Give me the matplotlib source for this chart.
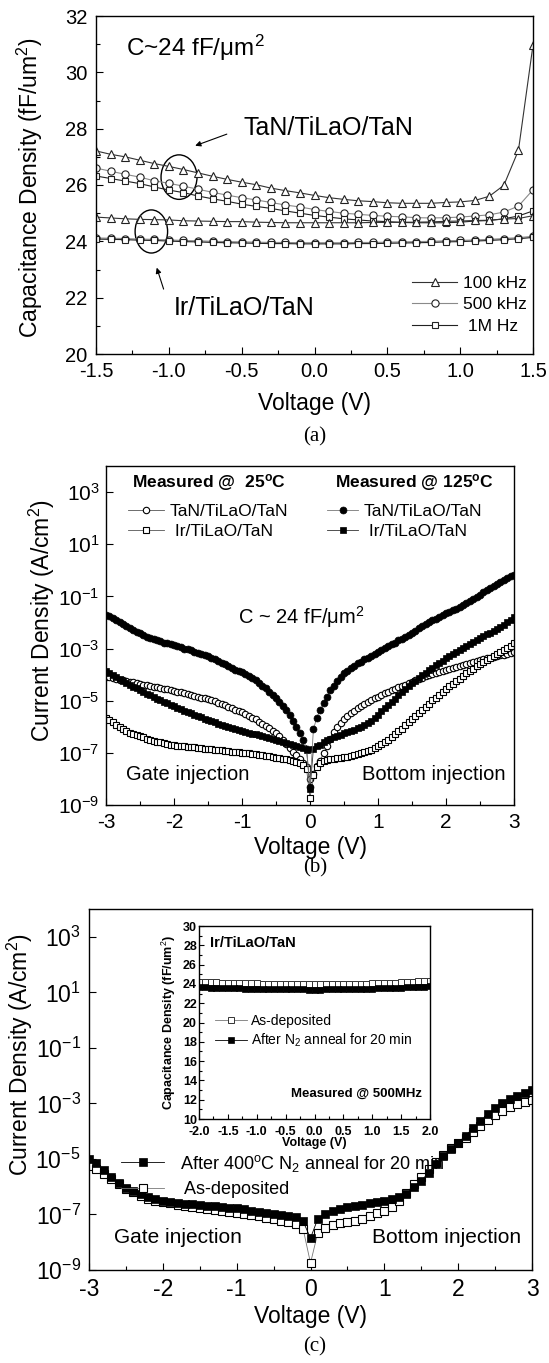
# Capacitancia y corriente de capacitores MIM TiLaO
import numpy as np
import matplotlib
matplotlib.use("Agg")
import matplotlib.pyplot as plt
from matplotlib.patches import Ellipse
from matplotlib.ticker import (MultipleLocator, FixedLocator, NullLocator,
                               FormatStrFormatter, LogFormatterMathtext)

plt.rcParams["font.family"] = ["Liberation Sans", "DejaVu Sans"]
plt.rcParams["mathtext.fontset"] = "custom"
plt.rcParams["mathtext.rm"] = "Liberation Sans"
plt.rcParams["mathtext.it"] = "Liberation Sans:italic"
plt.rcParams["mathtext.bf"] = "Liberation Sans:bold"
plt.rcParams["axes.unicode_minus"] = False

# ---------------- (a) C-V, 31 puntos de -1.5 a 1.5 V ----------------
volt_a = np.linspace(-1.5, 1.5, 31)
tan_100k = [27.21, 27.09, 27.00, 26.88, 26.76, 26.66, 26.55, 26.43, 26.31, 26.20,
            26.10, 26.01, 25.89, 25.80, 25.72, 25.63, 25.55, 25.49, 25.44, 25.41,
            25.37, 25.35, 25.35, 25.35, 25.38, 25.40, 25.45, 25.60, 25.99, 27.23, 30.97]
tan_500k = [26.60, 26.49, 26.38, 26.28, 26.15, 26.06, 25.96, 25.85, 25.74, 25.64,
            25.55, 25.47, 25.38, 25.29, 25.22, 25.13, 25.06, 25.00, 24.96, 24.92,
            24.89, 24.87, 24.84, 24.83, 24.84, 24.86, 24.90, 24.94, 25.04, 25.25, 25.83]
tan_1m = [26.32, 26.23, 26.14, 26.05, 25.93, 25.82, 25.73, 25.61, 25.51, 25.42,
          25.32, 25.24, 25.17, 25.08, 25.00, 24.92, 24.86, 24.80, 24.76, 24.72,
          24.70, 24.67, 24.66, 24.66, 24.66, 24.68, 24.72, 24.74, 24.80, 24.90, 25.08]
ir_100k = [24.86, 24.83, 24.80, 24.78, 24.77, 24.76, 24.73, 24.72, 24.71, 24.70,
           24.70, 24.68, 24.67, 24.66, 24.66, 24.66, 24.66, 24.66, 24.66, 24.67,
           24.67, 24.68, 24.68, 24.69, 24.71, 24.72, 24.74, 24.75, 24.79, 24.81, 24.91]
ir_500k = [24.12, 24.11, 24.10, 24.08, 24.07, 24.05, 24.03, 24.02, 24.00, 23.99,
           23.98, 23.97, 23.96, 23.96, 23.95, 23.95, 23.95, 23.95, 23.96, 23.96,
           23.97, 23.98, 23.99, 24.00, 24.02, 24.03, 24.05, 24.07, 24.10, 24.13, 24.18]
ir_1m = [24.08, 24.07, 24.06, 24.04, 24.03, 24.01, 23.99, 23.98, 23.96, 23.95,
         23.94, 23.93, 23.92, 23.92, 23.91, 23.91, 23.91, 23.91, 23.92, 23.92,
         23.93, 23.94, 23.95, 23.96, 23.98, 23.99, 24.01, 24.03, 24.06, 24.09, 24.14]
freq_labels = ["100 kHz", "500 kHz", " 1M Hz"]

# ---------------- (b) J-V, log10(J), 121 puntos de -3 a 3 V ----------------
volt_b = np.linspace(-3, 3, 121)
tan_25c_log = [
    -4.08, -4.11, -4.14, -4.16, -4.19, -4.22, -4.24, -4.27, -4.30, -4.32,
    -4.35, -4.38, -4.40, -4.43, -4.46, -4.48, -4.51, -4.54, -4.57, -4.59,
    -4.62, -4.65, -4.68, -4.71, -4.74, -4.78, -4.81, -4.85, -4.88, -4.91,
    -4.95, -4.99, -5.03, -5.08, -5.13, -5.18, -5.24, -5.29, -5.34, -5.40,
    -5.45, -5.51, -5.58, -5.65, -5.72, -5.80, -5.88, -5.97, -6.06, -6.15,
    -6.25, -6.37, -6.50, -6.65, -6.80, -6.95, -7.10, -7.25, -7.40, -7.55,
    -8.00,
    -7.80, -7.50, -7.30, -7.00, -6.75, -6.45, -6.20, -6.00, -5.85, -5.72,
    -5.60, -5.48, -5.38, -5.28, -5.20, -5.12, -5.04, -4.97, -4.91, -4.85,
    -4.78, -4.72, -4.66, -4.60, -4.55, -4.49, -4.44, -4.38, -4.33, -4.28,
    -4.22, -4.17, -4.12, -4.07, -4.02, -3.98, -3.94, -3.90, -3.86, -3.82,
    -3.78, -3.74, -3.70, -3.67, -3.63, -3.59, -3.56, -3.52, -3.49, -3.45,
    -3.42, -3.38, -3.35, -3.32, -3.29, -3.26, -3.23, -3.20, -3.17, -3.15]
ir_25c_log = [
    -5.65, -5.74, -5.83, -5.92, -6.00, -6.10, -6.16, -6.22, -6.28, -6.32,
    -6.36, -6.41, -6.45, -6.49, -6.53, -6.57, -6.60, -6.63, -6.65, -6.68,
    -6.70, -6.72, -6.73, -6.75, -6.76, -6.78, -6.79, -6.81, -6.82, -6.84,
    -6.85, -6.86, -6.88, -6.89, -6.91, -6.92, -6.93, -6.95, -6.96, -6.97,
    -6.99, -7.00, -7.02, -7.04, -7.05, -7.07, -7.09, -7.11, -7.13, -7.15,
    -7.18, -7.20, -7.22, -7.25, -7.28, -7.31, -7.35, -7.40, -7.47, -7.62,
    -8.75,
    -7.85, -7.55, -7.38, -7.32, -7.28, -7.25, -7.23, -7.21, -7.19, -7.17,
    -7.15, -7.12, -7.09, -7.06, -7.02, -6.98, -6.93, -6.88, -6.82, -6.75,
    -6.67, -6.58, -6.49, -6.39, -6.29, -6.18, -6.07, -5.95, -5.83, -5.71,
    -5.59, -5.47, -5.35, -5.23, -5.11, -4.99, -4.88, -4.77, -4.66, -4.55,
    -4.45, -4.35, -4.25, -4.15, -4.05, -3.95, -3.86, -3.77, -3.68, -3.60,
    -3.52, -3.44, -3.37, -3.29, -3.22, -3.14, -3.06, -2.98, -2.90, -2.80]
tan_125c_log = [
    -1.70, -1.76, -1.82, -1.90, -1.97, -2.05, -2.12, -2.21, -2.30, -2.36,
    -2.42, -2.49, -2.55, -2.60, -2.65, -2.69, -2.73, -2.77, -2.80, -2.84,
    -2.88, -2.92, -2.96, -3.00, -3.03, -3.07, -3.12, -3.17, -3.22, -3.26,
    -3.30, -3.36, -3.42, -3.48, -3.55, -3.61, -3.68, -3.75, -3.82, -3.86,
    -3.90, -3.97, -4.05, -4.13, -4.22, -4.32, -4.42, -4.53, -4.65, -4.77,
    -4.90, -5.05, -5.20, -5.37, -5.55, -5.77, -6.00, -6.25, -6.50, -6.85,
    -8.30,
    -6.10, -5.65, -5.35, -5.10, -4.85, -4.60, -4.42, -4.25, -4.10, -3.95,
    -3.85, -3.75, -3.66, -3.57, -3.50, -3.42, -3.35, -3.27, -3.20, -3.13,
    -3.06, -2.99, -2.91, -2.84, -2.77, -2.69, -2.62, -2.55, -2.47, -2.40,
    -2.32, -2.23, -2.15, -2.07, -2.00, -1.92, -1.85, -1.78, -1.71, -1.65,
    -1.59, -1.53, -1.47, -1.40, -1.33, -1.26, -1.18, -1.10, -1.02, -0.93,
    -0.85, -0.77, -0.69, -0.60, -0.52, -0.45, -0.37, -0.30, -0.23, -0.17]
ir_125c_log = [
    -3.85, -3.93, -4.02, -4.10, -4.18, -4.25, -4.32, -4.39, -4.46, -4.53,
    -4.60, -4.67, -4.73, -4.80, -4.86, -4.92, -4.98, -5.04, -5.10, -5.16,
    -5.22, -5.27, -5.33, -5.38, -5.43, -5.49, -5.54, -5.59, -5.64, -5.69,
    -5.74, -5.79, -5.83, -5.88, -5.92, -5.96, -6.00, -6.04, -6.08, -6.12,
    -6.15, -6.19, -6.22, -6.26, -6.29, -6.33, -6.36, -6.40, -6.43, -6.46,
    -6.50, -6.54, -6.57, -6.61, -6.65, -6.69, -6.73, -6.78, -6.83, -6.90,
    -8.40,
    -6.85, -6.75, -6.68, -6.60, -6.52, -6.45, -6.40, -6.35, -6.30, -6.25,
    -6.20, -6.16, -6.11, -6.06, -6.00, -5.94, -5.87, -5.78, -5.66, -5.53,
    -5.40, -5.28, -5.16, -5.04, -4.92, -4.80, -4.68, -4.56, -4.45, -4.34,
    -4.23, -4.12, -4.02, -3.92, -3.82, -3.73, -3.64, -3.55, -3.46, -3.38,
    -3.30, -3.22, -3.14, -3.06, -2.98, -2.90, -2.82, -2.75, -2.67, -2.60,
    -2.53, -2.46, -2.39, -2.32, -2.25, -2.18, -2.10, -2.00, -1.90, -1.78]
device_labels = ["TaN/TiLaO/TaN", " Ir/TiLaO/TaN"]

# ---------------- (c) J-V tras recocido, log10(J), 61 puntos ----------------
volt_c = np.linspace(-3, 3, 61)
anneal_log = [
    -5.00, -5.15, -5.40, -5.65, -5.85, -6.03, -6.17, -6.28, -6.38, -6.45,
    -6.50, -6.55, -6.58, -6.61, -6.64, -6.66, -6.68, -6.70, -6.72, -6.75,
    -6.78, -6.82, -6.86, -6.90, -6.95, -7.00, -7.03, -7.06, -7.10, -7.25,
    -7.85,
    -7.15, -6.97, -6.88, -6.80, -6.74, -6.69, -6.65, -6.60, -6.56, -6.52,
    -6.46, -6.38, -6.25, -6.00, -5.78, -5.50, -5.20, -4.90, -4.65, -4.42,
    -4.16, -3.90, -3.65, -3.40, -3.18, -3.00, -2.85, -2.75, -2.63, -2.50]
asdep_log = [
    -5.25, -5.38, -5.55, -5.72, -5.90, -6.08, -6.20, -6.32, -6.43, -6.50,
    -6.56, -6.60, -6.65, -6.70, -6.74, -6.77, -6.80, -6.84, -6.88, -6.92,
    -6.96, -6.99, -7.02, -7.06, -7.11, -7.16, -7.22, -7.27, -7.36, -7.52,
    -8.75,
    -7.65, -7.48, -7.37, -7.30, -7.26, -7.22, -7.15, -7.06, -6.96, -6.86,
    -6.72, -6.52, -6.22, -5.92, -5.65, -5.38, -5.12, -4.86, -4.62, -4.44,
    -4.25, -4.03, -3.80, -3.60, -3.42, -3.27, -3.12, -3.02, -2.95, -2.87]

# inserto C-V a 500 MHz, 41 puntos de -2 a 2 V
volt_in = np.linspace(-2, 2, 41)
cap_asdep = [24.20, 24.18, 24.16, 24.15, 24.13, 24.12, 24.10, 24.09, 24.07, 24.06,
             24.05, 24.03, 24.02, 24.01, 24.00, 23.99, 23.98, 23.97, 23.97, 23.96,
             23.96, 23.96, 23.97, 23.97, 23.98, 23.99, 24.00, 24.01, 24.03, 24.04,
             24.06, 24.08, 24.10, 24.12, 24.14, 24.17, 24.20, 24.23, 24.26, 24.30, 24.34]
cap_anneal = [23.65, 23.63, 23.61, 23.60, 23.58, 23.57, 23.55, 23.54, 23.52, 23.51,
              23.50, 23.48, 23.47, 23.46, 23.45, 23.44, 23.43, 23.42, 23.42, 23.41,
              23.41, 23.41, 23.42, 23.42, 23.43, 23.44, 23.45, 23.46, 23.48, 23.49,
              23.51, 23.53, 23.55, 23.57, 23.59, 23.61, 23.64, 23.67, 23.70, 23.73, 23.76]

W, H = 549, 1363


def caja(left, top, right, bottom):
    """Rectangulo de ejes en fraccion de figura a partir de pixeles."""
    return [left / W, 1 - bottom / H, (right - left) / W, (bottom - top) / H]


def estilo(ax, size, padx, pady, bold=False):
    ax.tick_params(which="both", direction="in", top=False, right=False, width=0.8)
    ax.tick_params(which="major", length=5)
    ax.tick_params(which="minor", length=3)
    ax.tick_params(axis="x", labelsize=size, pad=padx)
    ax.tick_params(axis="y", labelsize=size, pad=pady)
    for s in ax.spines.values():
        s.set_linewidth(1.0)
    if bold:
        for t in ax.get_xticklabels() + ax.get_yticklabels():
            t.set_fontweight("bold")


def etiquetas(ax, xl, yl, xpos, ypos, size, weight="normal"):
    ax.set_xlabel(xl, fontsize=size, fontweight=weight, va="center")
    ax.set_ylabel(yl, fontsize=size, fontweight=weight, va="center", ha="center")
    ax.xaxis.set_label_coords(*xpos)
    ax.yaxis.set_label_coords(*ypos)


def eje_log(ax):
    ax.set_yscale("log")
    ax.set_ylim(1e-9, 1e4)
    ax.set_xlim(-3, 3)
    ax.yaxis.set_major_locator(FixedLocator([10.0 ** k for k in range(-9, 4, 2)]))
    ax.yaxis.set_major_formatter(LogFormatterMathtext())
    ax.yaxis.set_minor_locator(NullLocator())
    ax.xaxis.set_major_locator(MultipleLocator(1))
    ax.xaxis.set_minor_locator(MultipleLocator(0.5))


def main():
    fig = plt.figure(figsize=(W / 100, H / 100), dpi=100)

    # ===================== (a) =====================
    ax = fig.add_axes(caja(96, 16, 533, 354))
    est = [dict(marker="^", ms=6.0, color="#333333"),
           dict(marker="o", ms=5.2, color="#8a8a8a"),
           dict(marker="s", ms=4.5, color="#222222")]
    lineas = []
    for y, e, lab in zip([tan_100k, tan_500k, tan_1m], est, freq_labels):
        l, = ax.plot(volt_a, y, "-", lw=0.8, color=e["color"], marker=e["marker"],
                     ms=e["ms"], mfc="white", mec="#222222", mew=0.8, label=lab)
        lineas.append(l)
    for y, e in zip([ir_100k, ir_500k, ir_1m], est):
        ax.plot(volt_a, y, "-", lw=0.8, color=e["color"], marker=e["marker"],
                ms=e["ms"], mfc="white", mec="#222222", mew=0.8)
    ax.set_xlim(-1.5, 1.5)
    ax.set_ylim(20, 32)
    ax.xaxis.set_major_locator(MultipleLocator(0.5))
    ax.xaxis.set_minor_locator(MultipleLocator(0.25))
    ax.xaxis.set_major_formatter(FormatStrFormatter("%.1f"))
    ax.yaxis.set_major_locator(MultipleLocator(2))
    ax.yaxis.set_minor_locator(MultipleLocator(1))
    estilo(ax, 14.5, 6, 6)
    etiquetas(ax, "Voltage (V)", "Capacitance Density (fF/um$^2$)",
              (0.5, -0.145), (-0.151, 0.49), 16.5)
    ax.legend(lineas, freq_labels, loc="lower right", bbox_to_anchor=(0.985, 0.06),
              frameon=False, fontsize=12.5, handlelength=2.6, handletextpad=0.3,
              labelspacing=0.35, borderaxespad=0, borderpad=0)
    ax.text(-1.294, 30.86, "C~24 fF/μm$^2$", fontsize=17.5, va="center")
    ax.text(-0.49, 28.02, "TaN/TiLaO/TaN", fontsize=18, va="center")
    ax.text(-0.964, 21.63, "Ir/TiLaO/TaN", fontsize=18, va="center")
    ax.add_patch(Ellipse((-0.93, 26.28), 0.247, 1.58, fill=False, lw=1.0, ec="black"))
    ax.add_patch(Ellipse((-1.12, 24.35), 0.223, 1.53, fill=False, lw=1.0, ec="black"))
    ax.annotate("", xy=(-0.837, 27.36), xytext=(-0.584, 27.84),
                arrowprops=dict(arrowstyle="-|>", lw=0.8, color="black",
                                mutation_scale=8))
    ax.annotate("", xy=(-1.089, 23.16), xytext=(-1.03, 22.21),
                arrowprops=dict(arrowstyle="-|>", lw=0.8, color="black",
                                mutation_scale=8))
    fig.text(315 / W, 1 - 437 / H, "(a)", fontsize=15, family="Liberation Serif",
             ha="center", va="center")

    # ===================== (b) =====================
    ax = fig.add_axes(caja(106, 466, 514, 805))
    h_tan25, = ax.plot(volt_b, 10.0 ** np.array(tan_25c_log), "-", lw=0.6,
                       color="#555555", marker="o", ms=4.6, mfc="white",
                       mec="black", mew=0.8)
    h_ir25, = ax.plot(volt_b, 10.0 ** np.array(ir_25c_log), "-", lw=0.6,
                      color="#555555", marker="s", ms=4.2, mfc="white",
                      mec="black", mew=0.8)
    h_ir125, = ax.plot(volt_b, 10.0 ** np.array(ir_125c_log), "-", lw=0.6,
                       color="#333333", marker="s", ms=4.4, mfc="black",
                       mec="black", mew=0.5)
    h_tan125, = ax.plot(volt_b, 10.0 ** np.array(tan_125c_log), "-", lw=0.6,
                        color="#777777", marker="o", ms=5.0, mfc="black",
                        mec="black", mew=0.5)
    eje_log(ax)
    estilo(ax, 15, 5.5, 4.5)
    etiquetas(ax, "Voltage (V)", "Current Density (A/cm$^2$)",
              (0.5, -0.124), (-0.157, 0.543), 16.5)
    leg1 = ax.legend([h_tan25, h_ir25], device_labels, loc="upper left",
                     bbox_to_anchor=(0.054, 0.888), frameon=False, fontsize=12.5,
                     handlelength=2.1, handletextpad=0.3, labelspacing=0.3,
                     borderaxespad=0, borderpad=0)
    ax.add_artist(leg1)
    ax.legend([h_tan125, h_ir125], device_labels, loc="upper left",
              bbox_to_anchor=(0.542, 0.888), frameon=False, fontsize=12.5,
              handlelength=1.8, handletextpad=0.3, labelspacing=0.3,
              borderaxespad=0, borderpad=0)
    ax.text(0.064, 0.95, r"Measured @  25$^{\mathbf{o}}$C", transform=ax.transAxes,
            fontsize=12.5, fontweight="bold", va="center")
    ax.text(0.561, 0.95, r"Measured @ 125$^{\mathbf{o}}$C", transform=ax.transAxes,
            fontsize=12.5, fontweight="bold", va="center")
    ax.text(0.3235, 0.555, "C ~ 24 fF/μm$^2$", transform=ax.transAxes,
            fontsize=14.5, va="center")
    ax.text(0.049, 0.0885, "Gate injection", transform=ax.transAxes,
            fontsize=14.5, va="center")
    ax.text(0.98, 0.0885, "Bottom injection", transform=ax.transAxes,
            fontsize=14.5, va="center", ha="right")
    fig.text(315 / W, 1 - 868 / H, "(b)", fontsize=15, family="Liberation Serif",
             ha="center", va="center")

    # ===================== (c) =====================
    ax = fig.add_axes(caja(89, 909, 532, 1270))
    h_dep, = ax.plot(volt_c, 10.0 ** np.array(asdep_log), "-", lw=0.6,
                     color="#777777", marker="s", ms=5.6, mfc="white",
                     mec="black", mew=0.8)
    h_ann, = ax.plot(volt_c, 10.0 ** np.array(anneal_log), "-", lw=0.6,
                     color="black", marker="s", ms=5.6, mfc="black",
                     mec="black", mew=0.5)
    eje_log(ax)
    estilo(ax, 16.5, 5.5, 6)
    etiquetas(ax, "Voltage (V)", "Current Density (A/cm$^2$)",
              (0.5, -0.130), (-0.157, 0.596), 16.5)
    ax.legend([h_ann, h_dep],
              [r"After 400$^{\rm o}$C N$_2$ anneal for 20 min", " As-deposited"],
              loc="upper left", bbox_to_anchor=(0.072, 0.325), frameon=False,
              fontsize=13, handlelength=2.4, handletextpad=0.9,
              labelspacing=0.4, borderaxespad=0, borderpad=0)
    ax.text(0.056, 0.0914, "Gate injection", transform=ax.transAxes,
            fontsize=15, va="center")
    ax.text(0.976, 0.0914, "Bottom injection", transform=ax.transAxes,
            fontsize=15, va="center", ha="right")
    fig.text(315 / W, 1 - 1347 / H, "(c)", fontsize=15, family="Liberation Serif",
             ha="center", va="center")

    # inserto
    ins = fig.add_axes(caja(199, 926, 430, 1119))
    ins.set_facecolor("white")
    i_dep, = ins.plot(volt_in, cap_asdep, "-", lw=0.6, color="#777777", marker="s",
                      ms=4.0, mfc="white", mec="#333333", mew=0.7)
    i_ann, = ins.plot(volt_in, cap_anneal, "-", lw=0.6, color="black", marker="s",
                      ms=4.0, mfc="black", mec="black", mew=0.5)
    ins.set_xlim(-2, 2)
    ins.set_ylim(10, 30)
    ins.xaxis.set_major_locator(MultipleLocator(0.5))
    ins.xaxis.set_minor_locator(MultipleLocator(0.25))
    ins.xaxis.set_major_formatter(FormatStrFormatter("%.1f"))
    ins.yaxis.set_major_locator(MultipleLocator(2))
    ins.yaxis.set_minor_locator(MultipleLocator(1))
    estilo(ins, 9, 5.0, 1.5, bold=True)
    ins.tick_params(which="major", length=3.5)
    ins.tick_params(which="minor", length=2)
    etiquetas(ins, "Voltage (V)", "Capacitance Density (fF/um$^2$)",
              (0.5, -0.125), (-0.13, 0.5), 9, weight="bold")
    ins.legend([i_dep, i_ann], ["As-deposited", "After N$_2$ anneal for 20 min"],
               loc="upper left", bbox_to_anchor=(0.07, 0.545), frameon=False,
               fontsize=10, handlelength=2.3, handletextpad=0.3, labelspacing=0.3,
               borderaxespad=0, borderpad=0)
    ins.text(0.048, 0.912, "Ir/TiLaO/TaN", transform=ins.transAxes, fontsize=10.5,
             fontweight="bold", va="center")
    ins.text(0.965, 0.13, "Measured @ 500MHz", transform=ins.transAxes,
             fontsize=9.5, fontweight="bold", va="center", ha="right")

    fig.savefig("out.png", dpi=100)


if __name__ == "__main__":
    main()
